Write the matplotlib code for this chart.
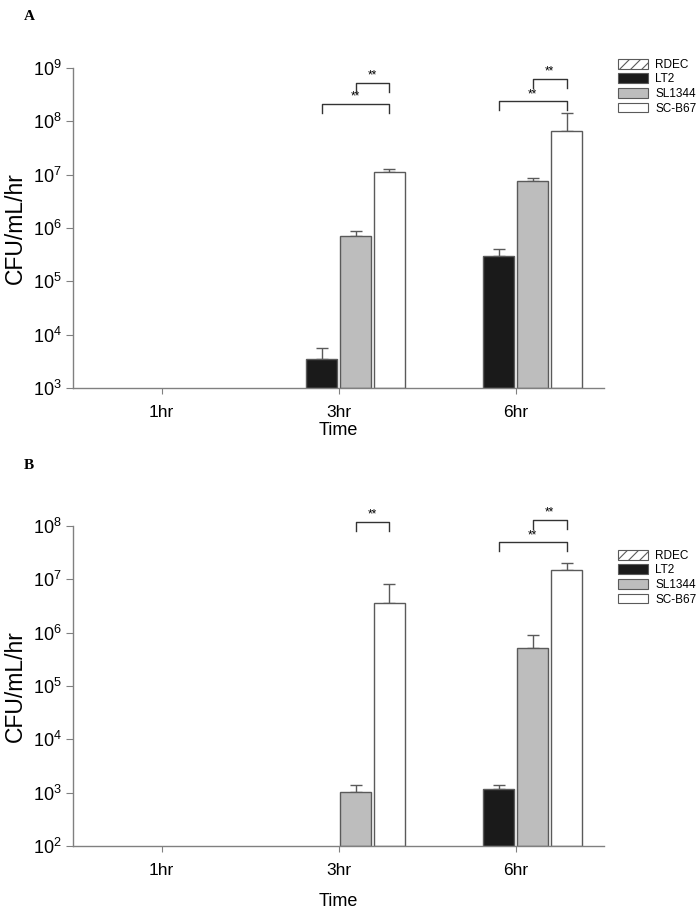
import numpy as np
import matplotlib.pyplot as plt
from matplotlib.patches import Patch

plt.rcParams['font.family'] = ['Liberation Sans', 'DejaVu Sans']
plt.rcParams['mathtext.default'] = 'regular'
plt.rcParams['hatch.color'] = '#555555'
plt.rcParams['hatch.linewidth'] = 0.8

# ==========================================================
# DATA (NaN = no bar)
# ==========================================================
times = ["1hr", "3hr", "6hr"]
strains = ["RDEC", "LT2", "SL1344", "SC-B67"]

# panel A
a_rdec = [np.nan, np.nan, np.nan]
a_lt2 = [np.nan, 3.5e3, 3.0e5]
a_sl1344 = [np.nan, 7.1e5, 7.6e6]
a_scb67 = [np.nan, 1.12e7, 6.6e7]
a_lt2_err = [np.nan, 5.6e3, 4.1e5]
a_sl1344_err = [np.nan, 8.7e5, 8.7e6]
a_scb67_err = [np.nan, 1.3e7, 1.45e8]

# panel B
b_rdec = [np.nan, np.nan, np.nan]
b_lt2 = [np.nan, np.nan, 1.17e3]
b_sl1344 = [np.nan, 1.03e3, 5.2e5]
b_scb67 = [np.nan, 3.6e6, 1.5e7]
b_lt2_err = [np.nan, np.nan, 1.38e3]
b_sl1344_err = [np.nan, 1.38e3, 9.1e5]
b_scb67_err = [np.nan, 8.3e6, 2.0e7]

# significance brackets: (time index, from strain, to strain, label)
a_sig = [(1, 2, 3, "**"), (1, 1, 3, "**"), (2, 2, 3, "**"), (2, 1, 3, "**")]
b_sig = [(1, 2, 3, "**"), (2, 2, 3, "**"), (2, 1, 3, "**")]

# ==========================================================
# STYLE
# ==========================================================
faces = ["white", "#1a1a1a", "#bdbdbd", "white"]
hatches = ["///", None, None, None]
edge = "#5a5a5a"
axis_col = "#808080"
width = 0.17
step = 0.192

fig = plt.figure(figsize=(7.0, 9.11), dpi=100)


def draw_panel(ax, series, errs, sig, ylo, yhi, bracket_y, time_pad):
    ax.set_yscale("log")
    x = np.arange(len(times))
    for i, vals in enumerate(series):
        pos = x + (i - 1.5) * step
        vals = np.array(vals, dtype=float)
        ax.bar(pos, vals - ylo, width, bottom=ylo, color=faces[i], edgecolor=edge,
               linewidth=1.0, hatch=hatches[i], zorder=2)
        if errs[i] is not None:
            e = np.array(errs[i], dtype=float)
            ax.errorbar(pos, vals, yerr=[np.zeros_like(vals), e - vals],
                        fmt="none", ecolor=edge, elinewidth=1.0, capsize=4,
                        capthick=1.0, zorder=1)
    # brackets
    for (t, s0, s1, lab), (top, leg) in zip(sig, bracket_y):
        x0 = t + (s0 - 1.5) * step
        x1 = t + (s1 - 1.5) * step
        ax.plot([x0, x0, x1, x1], [10 ** leg, 10 ** top, 10 ** top, 10 ** leg],
                color="#333333", lw=1.0, clip_on=False, zorder=4)
        ax.text((x0 + x1) / 2, 10 ** (top + 0.02), lab, ha="center", va="bottom",
                fontsize=8.5, clip_on=False)

    ax.set_ylim(ylo, yhi)
    ax.set_xlim(-0.5, 2.5)
    ax.set_xticks(x)
    ax.set_xticklabels(times)
    ax.yaxis.set_minor_locator(plt.NullLocator())
    ax.spines["top"].set_visible(False)
    ax.spines["right"].set_visible(False)
    for s in ("left", "bottom"):
        ax.spines[s].set_color(axis_col)
        ax.spines[s].set_linewidth(1.0)
    ax.tick_params(axis="y", direction="out", length=5, color=axis_col,
                   labelsize=13, pad=3)
    ax.tick_params(axis="x", direction="out", length=4, color=axis_col,
                   labelsize=12.5, pad=8)
    ax.set_ylabel("CFU/mL/hr", fontsize=16.5)
    ax.yaxis.set_label_coords(-0.086, 0.5)
    ax.set_xlabel("Time", fontsize=13, labelpad=time_pad)


legend_handles = [Patch(facecolor=faces[i], edgecolor=edge, hatch=hatches[i],
                        linewidth=0.8, label=strains[i]) for i in range(4)]

# ---------------- panel A ----------------
ax_a = fig.add_axes([0.1043, 0.5741, 0.7586, 0.3513])
draw_panel(ax_a,
           [a_rdec, a_lt2, a_sl1344, a_scb67],
           [None, a_lt2_err, a_sl1344_err, a_scb67_err],
           a_sig, 1e3, 1e9,
           [(8.72, 8.55), (8.33, 8.16), (8.80, 8.63), (8.38, 8.22)],
           time_pad=2)
fig.legend(handles=legend_handles, loc="upper left",
           bbox_to_anchor=(0.874, 0.942), frameon=False, fontsize=8.5,
           handlelength=2.6, handleheight=0.9, handletextpad=0.6,
           labelspacing=0.22, borderpad=0)
fig.text(0.034, 0.989, "A", fontsize=11, fontweight="bold",
         family="Liberation Serif", va="top")

# ---------------- panel B ----------------
ax_b = fig.add_axes([0.1043, 0.0713, 0.7586, 0.3513])
draw_panel(ax_b,
           [b_rdec, b_lt2, b_sl1344, b_scb67],
           [None, b_lt2_err, b_sl1344_err, b_scb67_err],
           b_sig, 1e2, 1e8,
           [(8.08, 7.91), (8.12, 7.95), (7.70, 7.53)],
           time_pad=11)
fig.legend(handles=legend_handles, loc="upper left",
           bbox_to_anchor=(0.874, 0.403), frameon=False, fontsize=8.5,
           handlelength=2.6, handleheight=0.9, handletextpad=0.6,
           labelspacing=0.22, borderpad=0)
fig.text(0.034, 0.496, "B", fontsize=11, fontweight="bold",
         family="Liberation Serif", va="top")

fig.savefig("out.png", dpi=100)
